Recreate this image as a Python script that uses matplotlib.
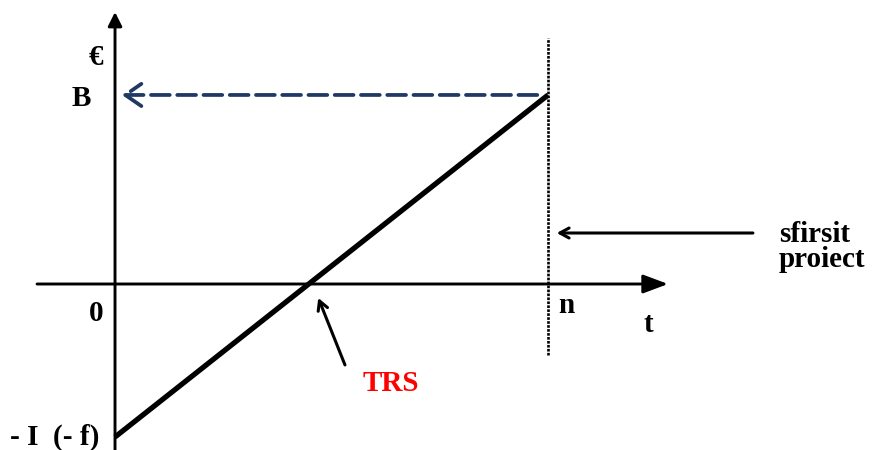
import matplotlib
matplotlib.use("Agg")
import matplotlib.pyplot as plt

# data: cash flow over project life
t_vals = [0, 10]          # 0 ... n
cash_vals = [-4.5, 5.56]  # -I ... B
n_t = t_vals[1]
B_val = cash_vals[1]
I_val = -cash_vals[0]
t_zero = I_val / (B_val + I_val) * n_t   # TRS, where line crosses 0

plt.rcParams['font.family'] = ['Liberation Serif', 'DejaVu Serif']
FS = 21

fig = plt.figure(figsize=(8.72, 4.5), dpi=100)
ax = fig.add_axes([0, 0, 1, 1])
ax.set_xlim(-2.656, 17.48)
ax.set_ylim(-4.882, 8.353)
ax.set_axis_off()

# axes with arrow heads
ax.annotate("", xy=(12.77, 0), xytext=(-1.80, 0),
            arrowprops=dict(arrowstyle="-|>,head_length=0.8,head_width=0.3",
                            mutation_scale=19, lw=2.1, color="black",
                            shrinkA=0, shrinkB=0))
ax.annotate("", xy=(0, 8.0), xytext=(0, -4.9),
            arrowprops=dict(arrowstyle="-|>,head_length=0.6,head_width=0.3",
                            mutation_scale=14, lw=2.1, color="black",
                            shrinkA=0, shrinkB=0))

# main line
ax.plot(t_vals, cash_vals, color="black", lw=3.8, solid_capstyle="butt")

# end of project vertical dotted line
ax.plot([n_t, n_t], [-2.09, 7.24], color="black", lw=1.9, ls=(0, (1, 0.5)))

# dashed arrow from B back to the y axis
ax.annotate("", xy=(0.16, B_val), xytext=(n_t - 0.25, B_val),
            arrowprops=dict(arrowstyle="->,head_length=0.58,head_width=0.4",
                            mutation_scale=20, lw=2.7, color="#203864",
                            ls=(0, (5, 2)), shrinkA=0, shrinkB=0))

# sfirsit proiect arrow
ax.annotate("", xy=(n_t + 0.2, 1.5), xytext=(14.73, 1.5),
            arrowprops=dict(arrowstyle="->,head_length=0.55,head_width=0.3",
                            mutation_scale=12, lw=2.2, color="black",
                            shrinkA=0, shrinkB=0))

# TRS arrow
ax.annotate("", xy=(t_zero + 0.22, -0.41), xytext=(5.31, -2.38),
            arrowprops=dict(arrowstyle="->,head_length=0.55,head_width=0.3",
                            mutation_scale=12, lw=2.2, color="black",
                            shrinkA=0, shrinkB=0))

# labels
kw = dict(fontsize=FS, fontweight="bold", color="black")
ax.text(-0.44, 6.65, "€", ha="center", va="center", **kw)
ax.text(-0.785, 5.47, "B", ha="center", va="center", **kw)
ax.text(-0.44, -0.88, "0", ha="center", va="center", **kw)
ax.text(-0.35, -4.5, "- I  (- f)", ha="right", va="center", **kw)
ax.text(10.42, -0.62, "n", ha="center", va="center", **kw)
ax.text(12.31, -1.2, "t", ha="center", va="center", **kw)
ax.text(15.33, 1.235, "sfirsit", ha="left", va="baseline", **kw)
ax.text(15.33, 0.5, "proiect", ha="left", va="baseline", **kw)
ax.text(6.37, -2.94, "TRS", ha="center", va="center", fontsize=FS,
        fontweight="bold", color="#ff0000")

fig.savefig("out.png", dpi=100)
